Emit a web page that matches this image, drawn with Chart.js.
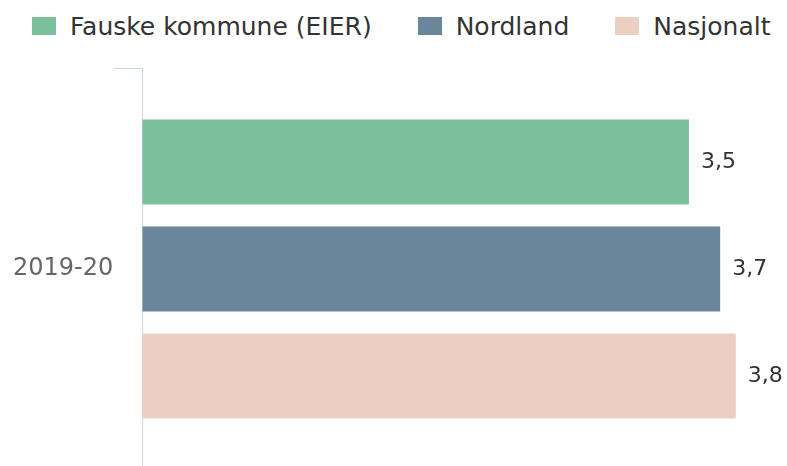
<!DOCTYPE html>
<html>
<head>
<meta charset="utf-8">
<script src="https://cdn.jsdelivr.net/npm/chart.js@4/dist/chart.umd.min.js"></script>
<style>
  html, body { margin: 0; padding: 0; background: #fff; }
  #wrap { width: 787px; height: 466px; position: relative; overflow: hidden; }
  #legend {
    position: absolute; top: 0; left: 0; width: 787px; height: 64px;
    box-sizing: border-box; padding: 14px 0 0 32px;
    display: flex; align-items: flex-start;
    font-family: 'DejaVu Sans', sans-serif; font-size: 25px; color: #333;
  }
  .legend-item { display: flex; align-items: center; height: 24px; margin-right: 46px; white-space: nowrap; }
  .legend-box { width: 24px; height: 18px; margin-right: 14px; }
  /* plot runs a few px past the bottom edge, as in the cropped original */
  #plot { position: absolute; top: 64px; left: 0; width: 787px; height: 406px; }
</style>
</head>
<body>
<div id="wrap">
  <div id="legend"></div>
  <div id="plot"><canvas id="chart"></canvas></div>
</div>
<script>
// data
const categories = ['2019-20'];
const fauskeValues = [3.5];
const nordlandValues = [3.7];
const nasjonaltValues = [3.8];
const seriesNames = ['Fauske kommune (EIER)', 'Nordland', 'Nasjonalt'];
const seriesColors = ['#7cbf9b', '#6a869b', '#eccfc1'];

const FONT = "'DejaVu Sans', sans-serif";

// value labels at the end of each bar
const valueLabels = {
  id: 'valueLabels',
  afterDatasetsDraw(chart) {
    const ctx = chart.ctx;
    ctx.save();
    ctx.font = '22px ' + FONT;
    ctx.fillStyle = '#333333';
    ctx.textAlign = 'left';
    ctx.textBaseline = 'middle';
    chart.data.datasets.forEach((ds, i) => {
      chart.getDatasetMeta(i).data.forEach((bar, j) => {
        const text = String(ds.data[j]).replace('.', ',');
        ctx.fillText(text, bar.x + 12, bar.y);
      });
    });
    ctx.restore();
  }
};

// html legend built from the chart's datasets
const htmlLegend = {
  id: 'htmlLegend',
  afterUpdate(chart) {
    const el = document.getElementById('legend');
    el.innerHTML = '';
    chart.data.datasets.forEach((ds) => {
      const item = document.createElement('div');
      item.className = 'legend-item';
      const box = document.createElement('span');
      box.className = 'legend-box';
      box.style.background = ds.backgroundColor;
      const label = document.createElement('span');
      label.textContent = ds.label;
      item.appendChild(box);
      item.appendChild(label);
      el.appendChild(item);
    });
  }
};

new Chart(document.getElementById('chart'), {
  type: 'bar',
  data: {
    labels: categories,
    datasets: [
      { label: seriesNames[0], data: fauskeValues, backgroundColor: seriesColors[0] },
      { label: seriesNames[1], data: nordlandValues, backgroundColor: seriesColors[1] },
      { label: seriesNames[2], data: nasjonaltValues, backgroundColor: seriesColors[2] }
    ]
  },
  options: {
    indexAxis: 'y',
    responsive: true,
    maintainAspectRatio: false,
    animation: false,
    categoryPercentage: 0.7985,
    barPercentage: 0.794,
    layout: { padding: { top: 4, left: 12, right: 20, bottom: 0 } },
    plugins: {
      tooltip: { enabled: false },
      legend: { display: false }
    },
    scales: {
      x: {
        display: false,
        min: 0,
        max: 4
      },
      y: {
        afterFit(scale) {
          scale.paddingTop = 0;
          scale.paddingBottom = 0;
        },
        border: { display: true, color: '#ccd6eb', width: 1 },
        grid: {
          drawOnChartArea: false,
          drawTicks: true,
          tickLength: 28,
          color: (c) => c.index === 0 ? '#ccd6eb' : 'rgba(0,0,0,0)'
        },
        ticks: {
          padding: 1,
          color: '#666666',
          font: { family: FONT, size: 24 }
        }
      }
    }
  },
  plugins: [htmlLegend, valueLabels]
});
</script>
</body>
</html>
